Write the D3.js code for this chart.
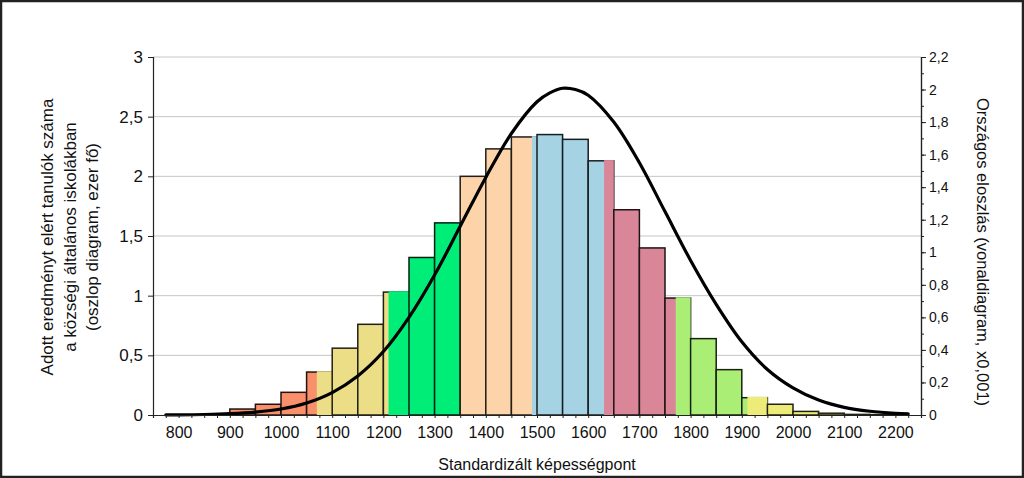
<!DOCTYPE html>
<html>
<head>
<meta charset="utf-8">
<script src="https://cdn.jsdelivr.net/npm/d3@7"></script>
<style>
  body { margin: 0; background: #fff; }
  text { font-family: "Liberation Sans", Arial, sans-serif; fill: #111; }
</style>
</head>
<body>
<script>
// oszlopok: kezdőpont (50 pontos sávok) és tanulószám (ezer fő)
var binStarts = [850, 900, 950, 1000, 1050, 1100, 1150, 1200, 1250, 1300, 1350, 1400, 1450,
                 1500, 1550, 1600, 1650, 1700, 1750, 1800, 1850, 1900, 1950, 2000, 2050, 2100, 2150];
var counts = [0.004, 0.05, 0.09, 0.19, 0.36, 0.56, 0.76, 1.03, 1.32, 1.61, 2.0, 2.23, 2.33,
              2.35, 2.31, 2.13, 1.72, 1.40, 0.98, 0.64, 0.38, 0.145, 0.09, 0.03, 0.015, 0.005, 0.003];
var binWidth = 50;

// képességszintek határai és színei
var levelEdges = [750, 1070, 1210, 1350, 1490, 1631, 1771, 1911, 2250];
var levelColors = ["#F98F6B", "#EBDE86", "#00EE78", "#FDD4AA", "#A6D3E4", "#D98699", "#AAEE76", "#EEEC79"];

// országos eloszlás (vonal)
var curveX = [775, 800, 850, 900, 950, 1000, 1050, 1100, 1150, 1200, 1250, 1300, 1350, 1400, 1450,
              1500, 1525, 1550, 1575, 1600, 1650, 1700, 1750, 1800, 1850, 1900, 1950, 2000, 2050, 2100, 2150, 2200, 2225];
var curveY = [0.001, 0.001, 0.003, 0.008, 0.018, 0.037, 0.074, 0.138, 0.24, 0.39, 0.60, 0.86, 1.16, 1.46, 1.73,
              1.925, 1.98, 2.008, 2.0, 1.965, 1.80, 1.55, 1.25, 0.95, 0.68, 0.45, 0.28, 0.167, 0.092, 0.047, 0.023, 0.01, 0.007];

var leftTicks = [0, 0.5, 1, 1.5, 2, 2.5, 3];
var rightTicks = [0, 0.2, 0.4, 0.6, 0.8, 1, 1.2, 1.4, 1.6, 1.8, 2, 2.2];
var xLabels = [800, 900, 1000, 1100, 1200, 1300, 1400, 1500, 1600, 1700, 1800, 1900, 2000, 2100, 2200];

var W = 1024, H = 478;
var pL = 153, pR = 921, pT = 57, pB = 415;

var fmt = function(v){ return String(+v.toFixed(2)).replace(".", ","); };

var xScale = d3.scaleLinear().domain([750, 2250]).range([pL, pR]);
var yL = d3.scaleLinear().domain([0, 3]).range([pB, pT]);
var yR = d3.scaleLinear().domain([0, 2.2]).range([pB, pT]);

var svg = d3.select("body").append("svg").attr("width", W).attr("height", H);

// keret
svg.append("rect").attr("x", 1).attr("y", 1).attr("width", W - 2).attr("height", H - 2)
   .attr("fill", "#fff").attr("stroke", "#222").attr("stroke-width", 2.5);

// rácsvonalak
svg.append("g").selectAll("line").data(leftTicks.filter(function(d){ return d > 0; })).enter()
   .append("line")
   .attr("x1", pL).attr("x2", pR)
   .attr("y1", function(d){ return yL(d); }).attr("y2", function(d){ return yL(d); })
   .attr("stroke", "#c6c6c6").attr("stroke-width", 1);

// oszlopok, szintenként felosztva
var gBars = svg.append("g");
binStarts.forEach(function(s, i){
    var e = s + binWidth, h = counts[i];
    var segs = [];
    for (var k = 0; k < levelColors.length; k++) {
        var a = Math.max(s, levelEdges[k]), b = Math.min(e, levelEdges[k + 1]);
        if (b > a) segs.push({a: a, b: b, c: levelColors[k]});
    }
    gBars.append("rect")
        .attr("x", xScale(s)).attr("width", xScale(e) - xScale(s))
        .attr("y", yL(h)).attr("height", yL(0) - yL(h))
        .attr("fill", segs[0].c)
        .attr("stroke", d3.color(segs[0].c).darker(5.5))
        .attr("stroke-width", 1.5);
    segs.slice(1).forEach(function(sg){
        gBars.append("rect")
            .attr("x", xScale(sg.a)).attr("width", xScale(sg.b) - xScale(sg.a))
            .attr("y", yL(h) - 0.75).attr("height", yL(0) - yL(h) + 0.75)
            .attr("fill", sg.c);
    });
});

// görbe
var pts = curveX.map(function(x, i){ return [x, curveY[i]]; });
svg.append("path").datum(pts)
   .attr("fill", "none").attr("stroke", "#000").attr("stroke-width", 3.2)
   .attr("stroke-linejoin", "round").attr("stroke-linecap", "round")
   .attr("d", d3.line().x(function(d){ return xScale(d[0]); }).y(function(d){ return yR(d[1]); })
                .curve(d3.curveCatmullRom));

// tengelyek
var axisL = d3.axisLeft(yL).tickValues(leftTicks).tickFormat(fmt).tickSize(5).tickPadding(5);
var gL = svg.append("g").attr("transform", "translate(" + pL + ",0)").call(axisL);
gL.selectAll("text").style("font-size", "17px");

var minorR = d3.range(0, 2.21, 0.1);
svg.append("g").attr("transform", "translate(" + pR + ",0)")
   .call(d3.axisRight(yR).tickValues(minorR).tickFormat("").tickSize(3));
var gR = svg.append("g").attr("transform", "translate(" + pR + ",0)")
   .call(d3.axisRight(yR).tickValues(rightTicks).tickFormat(fmt).tickSize(5).tickPadding(3));
gR.selectAll("text").style("font-size", "14px");

svg.append("g").attr("transform", "translate(0," + pB + ")")
   .call(d3.axisBottom(xScale).tickValues(d3.range(750, 2251, 25)).tickFormat("").tickSize(3));
svg.append("g").attr("transform", "translate(0," + pB + ")")
   .call(d3.axisBottom(xScale).tickValues(xLabels).tickFormat(d3.format("d")).tickSize(0).tickPadding(12))
   .call(function(g){ g.select(".domain").remove(); })
   .selectAll("text").style("font-size", "16px");

svg.selectAll(".domain").attr("stroke", "#222").attr("stroke-width", 1.2);
svg.selectAll(".tick line").attr("stroke", "#222");

// tengelycímek
svg.append("text").attr("x", 537).attr("y", 470).attr("text-anchor", "middle")
   .style("font-size", "16px").text("Standardizált képességpont");

var leftTitle = ["Adott eredményt elért tanulók száma", "a községi általános iskolákban", "(oszlop diagram, ezer fő)"];
leftTitle.forEach(function(t, i){
    svg.append("text")
       .attr("transform", "translate(" + (53 + i * 22.5) + ",237) rotate(-90)")
       .attr("text-anchor", "middle").style("font-size", "17px").text(t);
});

svg.append("text")
   .attr("transform", "translate(977,252) rotate(90)")
   .attr("text-anchor", "middle").style("font-size", "16.5px")
   .text("Országos eloszlás (vonaldiagram, x0,001)");
</script>
</body>
</html>
